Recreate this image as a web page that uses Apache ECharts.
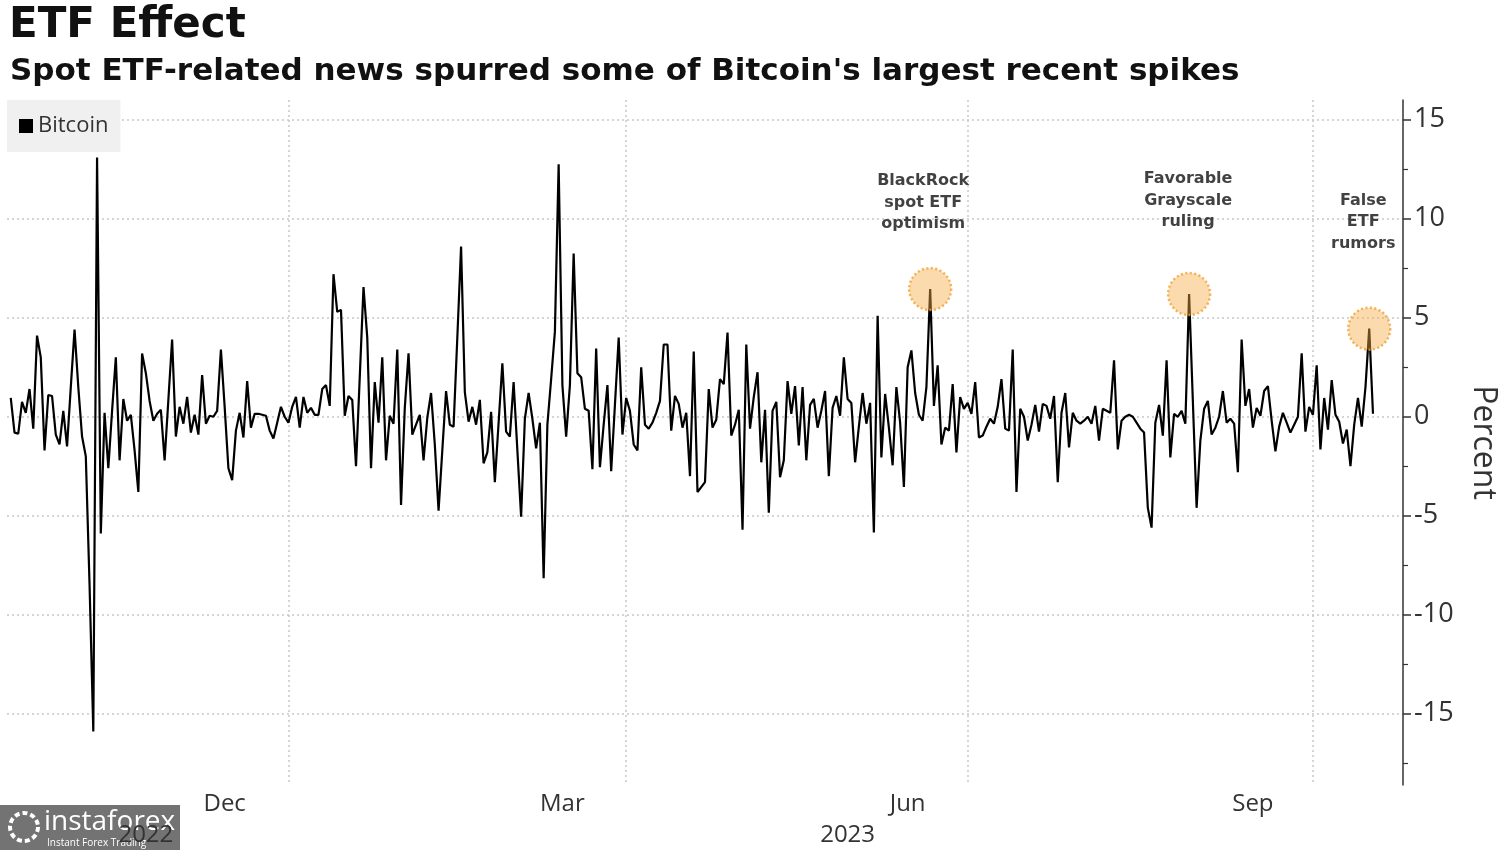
<!DOCTYPE html>
<html><head><meta charset="utf-8">
<script src="https://cdn.jsdelivr.net/npm/echarts@6/dist/echarts.min.js"></script>
<style>html,body{margin:0;padding:0;background:#fff}#c{width:1500px;height:850px}</style>
</head><body><div id="c"></div>
<script>
// ---- content ----
const titleText = 'ETF Effect';
const subtitleText = "Spot ETF-related news spurred some of Bitcoin's largest recent spikes";
const seriesName = 'Bitcoin';
const axisName = 'Percent';
const axisStart = '2022-10-18';
const axisEnd = '2023-10-25';
const dataStart = '2022-10-19';
// daily % change
const bitcoinPct = [
 0.95,-0.8,-0.85,0.75,0.2,1.4,-0.6,4.1,3.0,-1.7,
 1.1,1.05,-0.9,-1.4,0.3,-1.5,1.5,4.4,1.5,-1.0,
 -2.0,-8.5,-15.9,13.1,-5.9,0.2,-2.6,0.3,3.0,-2.2,
 0.9,-0.2,0.1,-1.7,-3.8,3.2,2.2,0.8,-0.2,0.15,
 0.35,-2.2,0.85,3.9,-1.0,0.5,-0.35,1.0,-0.8,0.1,
 -0.9,2.1,-0.35,0.05,0,0.3,3.4,0.5,-2.6,-3.2,
 -0.7,0.2,-1.05,1.8,-0.55,0.15,0.15,0.1,0.05,-0.7,
 -1.1,-0.3,0.5,0,-0.3,0.5,1.0,-0.55,1.0,0.2,
 0.45,0.1,0.1,1.4,1.6,0.55,7.2,5.3,5.4,0.05,
 1.05,0.85,-2.5,2.0,6.55,4.0,-2.6,1.75,-0.3,3.0,
 -2.2,0.05,-0.35,3.4,-4.45,0.45,3.2,-0.9,-0.4,0.1,
 -2.2,-0.05,1.2,-1.4,-4.75,-1.7,1.3,-0.4,-0.5,4.0,
 8.6,1.25,-0.25,0.5,-0.4,0.85,-2.35,-1.8,0.25,-3.3,
 -0.3,2.7,-0.75,-1.0,1.75,-1.7,-5.05,-0.1,1.2,-0.1,
 -1.6,-0.3,-8.15,-0.4,1.9,4.3,12.75,1.6,-1.0,1.6,
 8.25,2.2,2.0,0.4,0.3,-2.65,3.45,-2.55,-0.4,1.6,
 -2.75,0.6,4.0,-0.9,0.95,0.3,-1.4,-1.7,2.5,-0.4,
 -0.6,-0.3,0.2,0.8,3.65,3.65,-0.7,1.05,0.65,-0.55,
 0.2,-3.0,3.3,-3.8,-3.55,-3.3,1.4,-0.55,-0.15,1.9,
 1.65,4.25,-0.95,-0.4,0.35,-5.7,3.65,-0.6,1.0,2.25,
 -2.3,0.35,-4.85,0.3,0.75,-3.05,-2.2,1.8,0.15,1.55,
 -1.45,1.5,-2.2,0.6,0.9,-0.55,0.3,1.3,-3.0,0.45,
 1.05,0.05,3.0,0.9,0.7,-2.3,-0.5,1.2,-0.35,0.7,
 -5.85,5.1,-2.05,1.15,-0.55,-2.45,1.5,-0.3,-3.55,2.5,
 3.35,1.2,0.1,-0.2,1.5,6.45,0.55,2.6,-1.4,-0.55,
 -0.7,1.65,-1.8,1.0,0.4,0.7,0.15,1.75,-1.05,-0.95,
 -0.5,-0.1,-0.35,0.5,1.9,-0.6,-0.7,3.4,-3.8,0.4,
 0,-1.2,-0.4,0.6,-0.75,0.65,0.55,-0.1,1.05,-3.3,
 0.2,1.2,-1.55,0.2,-0.2,-0.35,-0.2,0,-0.35,0.55,
 -1.2,0.4,0.3,0.2,2.85,-1.65,-0.2,0,0.1,0,
 -0.3,-0.6,-0.8,-4.6,-5.6,-0.3,0.6,-0.95,2.85,-2.05,
 0.15,0,0.3,-0.35,6.2,0.8,-4.6,-1.2,0.4,0.8,
 -0.9,-0.55,0,1.3,-0.3,-0.1,-0.35,-2.8,3.9,0.55,
 1.4,-0.55,0.45,0.05,1.3,1.55,-0.2,-1.75,-0.5,0.2,
 -0.3,-0.8,-0.4,0,3.2,-0.75,0.5,0.1,2.6,-1.65,
 0.95,-0.65,1.85,0.1,-0.25,-1.35,-0.65,-2.5,-0.4,0.95,
 -0.5,1.5,4.45,0.15
];
const monthTickLabels = {'12-15':'Dec','03-15':'Mar','06-15':'Jun','09-15':'Sep'};
const quarterStarts = ['01-01','04-01','07-01','10-01'];
const yMajorTicks = [-15,-10,-5,0,5,10,15];
const yMinorTicks = [-17.5,-12.5,-7.5,-2.5,2.5,7.5,12.5];
const yMin = -18.6, yMax = 16;
const annotationDates = ['2023-06-21','2023-08-29','2023-10-16'];
const annotationTexts = ['BlackRock\nspot ETF\noptimism','Favorable\nGrayscale\nruling','False\nETF\nrumors'];
const watermarkText = 'instaforex';
const watermarkSub = 'Instant Forex Trading';

// ---- build ----
const DAY = 86400000;
const categories = [];
for (let t = Date.parse(axisStart + 'T00:00:00Z'); t <= Date.parse(axisEnd + 'T00:00:00Z'); t += DAY) {
  categories.push(new Date(t).toISOString().slice(0, 10));
}
const startIdx = categories.indexOf(dataStart);
const lineData = categories.map((c, i) => {
  const k = i - startIdx;
  return (k >= 0 && k < bitcoinPct.length) ? bitcoinPct[k] : null;
});
const yearMid = {};
(function(){
  const spans = {};
  categories.forEach((c, i) => { const y = c.slice(0,4); (spans[y] = spans[y] || []).push(i); });
  Object.keys(spans).forEach(y => { const a = spans[y]; yearMid[Math.round((a[0] + a[a.length-1]) / 2)] = y; });
})();

const labelStyles = [
  {distance: 32, offset: [-7, 0]},
  {distance: 39, offset: [-1, 0]},
  {distance: 52, offset: [-6, 0]}
];
const annData = annotationDates.map((d, i) => ({
  value: [d, lineData[categories.indexOf(d)]],
  label: {show: true, position: 'top', formatter: annotationTexts[i], distance: labelStyles[i].distance, offset: labelStyles[i].offset}
}));

const FONT = '"Open Sans", "Noto Sans", sans-serif';
const chart = echarts.init(document.getElementById('c'), null, {renderer: 'canvas'});
chart.setOption({
  animation: false,
  backgroundColor: '#ffffff',
  title: [
    {text: titleText, left: 4, top: 0, textStyle: {fontFamily: '"DejaVu Sans"', fontWeight: 'bold', fontSize: 42, color: '#111'}},
    {text: subtitleText, left: 5, top: 51, textStyle: {fontFamily: '"DejaVu Sans"', fontWeight: 'bold', fontSize: 31, color: '#111'}}
  ],
  legend: {
    data: [seriesName], left: 7, top: 100, orient: 'horizontal',
    backgroundColor: '#f0f0f0', padding: [15, 12, 15, 12],
    icon: 'rect', itemWidth: 14, itemHeight: 14,
    textStyle: {fontFamily: FONT, fontSize: 22, color: '#333'}
  },
  grid: {left: 7, right: 97, top: 100, bottom: 65, containLabel: false, outerBoundsMode: 'none'},
  xAxis: [
    {
      type: 'category', data: categories, boundaryGap: false,
      axisLine: {show: false}, axisTick: {show: false},
      axisLabel: {
        interval: (i, v) => monthTickLabels.hasOwnProperty(v.slice(5)),
        formatter: v => monthTickLabels[v.slice(5)] || '',
        fontFamily: FONT, fontSize: 24, color: '#333', margin: 7
      },
      splitLine: {
        show: true,
        interval: (i, v) => quarterStarts.indexOf(v.slice(5)) >= 0,
        lineStyle: {type: [2, 3], color: '#c8c8c8', width: 1.5}
      }
    },
    {
      type: 'category', data: categories, boundaryGap: false, position: 'bottom', offset: 33,
      axisLine: {show: false}, axisTick: {show: false}, splitLine: {show: false},
      axisLabel: {
        interval: (i) => yearMid.hasOwnProperty(i),
        formatter: (v, i) => yearMid[i] || '',
        fontFamily: FONT, fontSize: 24, color: '#333', margin: 5
      }
    }
  ],
  yAxis: [
    {
      type: 'value', position: 'right', min: yMin, max: yMax,
      name: axisName, nameLocation: 'middle', nameRotate: -90, nameGap: 64,
      nameTextStyle: {fontFamily: FONT, fontSize: 32, color: '#333'},
      axisLine: {show: true, lineStyle: {color: '#333', width: 1.5}},
      axisTick: {show: true, length: 8, customValues: yMajorTicks, lineStyle: {color: '#333', width: 1.5}},
      axisLabel: {customValues: yMajorTicks, fontFamily: FONT, fontSize: 27, color: '#333', margin: 11},
      splitLine: {show: true, lineStyle: {type: [2, 3], color: '#c8c8c8', width: 1.5}}
    },
    {
      type: 'value', position: 'right', min: yMin, max: yMax,
      axisLine: {show: false}, axisLabel: {show: false}, splitLine: {show: false},
      axisTick: {show: true, length: 5, customValues: yMinorTicks, lineStyle: {color: '#333', width: 1.2}}
    }
  ],
  series: [
    {
      name: seriesName, type: 'line', data: lineData, symbol: 'none', showSymbol: false,
      lineStyle: {color: '#000', width: 2.2}, itemStyle: {color: '#000'}, z: 3
    },
    {
      name: 'annotations', type: 'scatter', data: annData, symbolSize: 42, z: 4,
      itemStyle: {color: 'rgba(245,170,70,0.55)', borderColor: '#f2a030', borderWidth: 2.5, borderType: [2, 2.5]},
      label: {fontFamily: '"DejaVu Sans"', fontWeight: 'bold', fontSize: 16, lineHeight: 21.5, color: '#111', align: 'center'},
      emphasis: {disabled: true}
    }
  ],
  graphic: [
    {type: 'group', left: 0, bottom: 0, z: 100, children: [
      {type: 'rect', shape: {x: 0, y: 0, width: 180, height: 45}, style: {fill: 'rgba(90,90,90,0.85)'}},
      {type: 'text', x: 44, y: 3, style: {text: watermarkText, fill: '#fff', font: '28px "Open Sans", sans-serif'}},
      {type: 'text', x: 47, y: 33, style: {text: watermarkSub, fill: '#fff', font: '10px "Open Sans", sans-serif'}},
      {type: 'circle', shape: {cx: 24, cy: 22, r: 14}, style: {fill: 'none', stroke: '#fff', lineWidth: 4, lineDash: [5, 3]}}
    ]}
  ]
});
</script></body></html>
